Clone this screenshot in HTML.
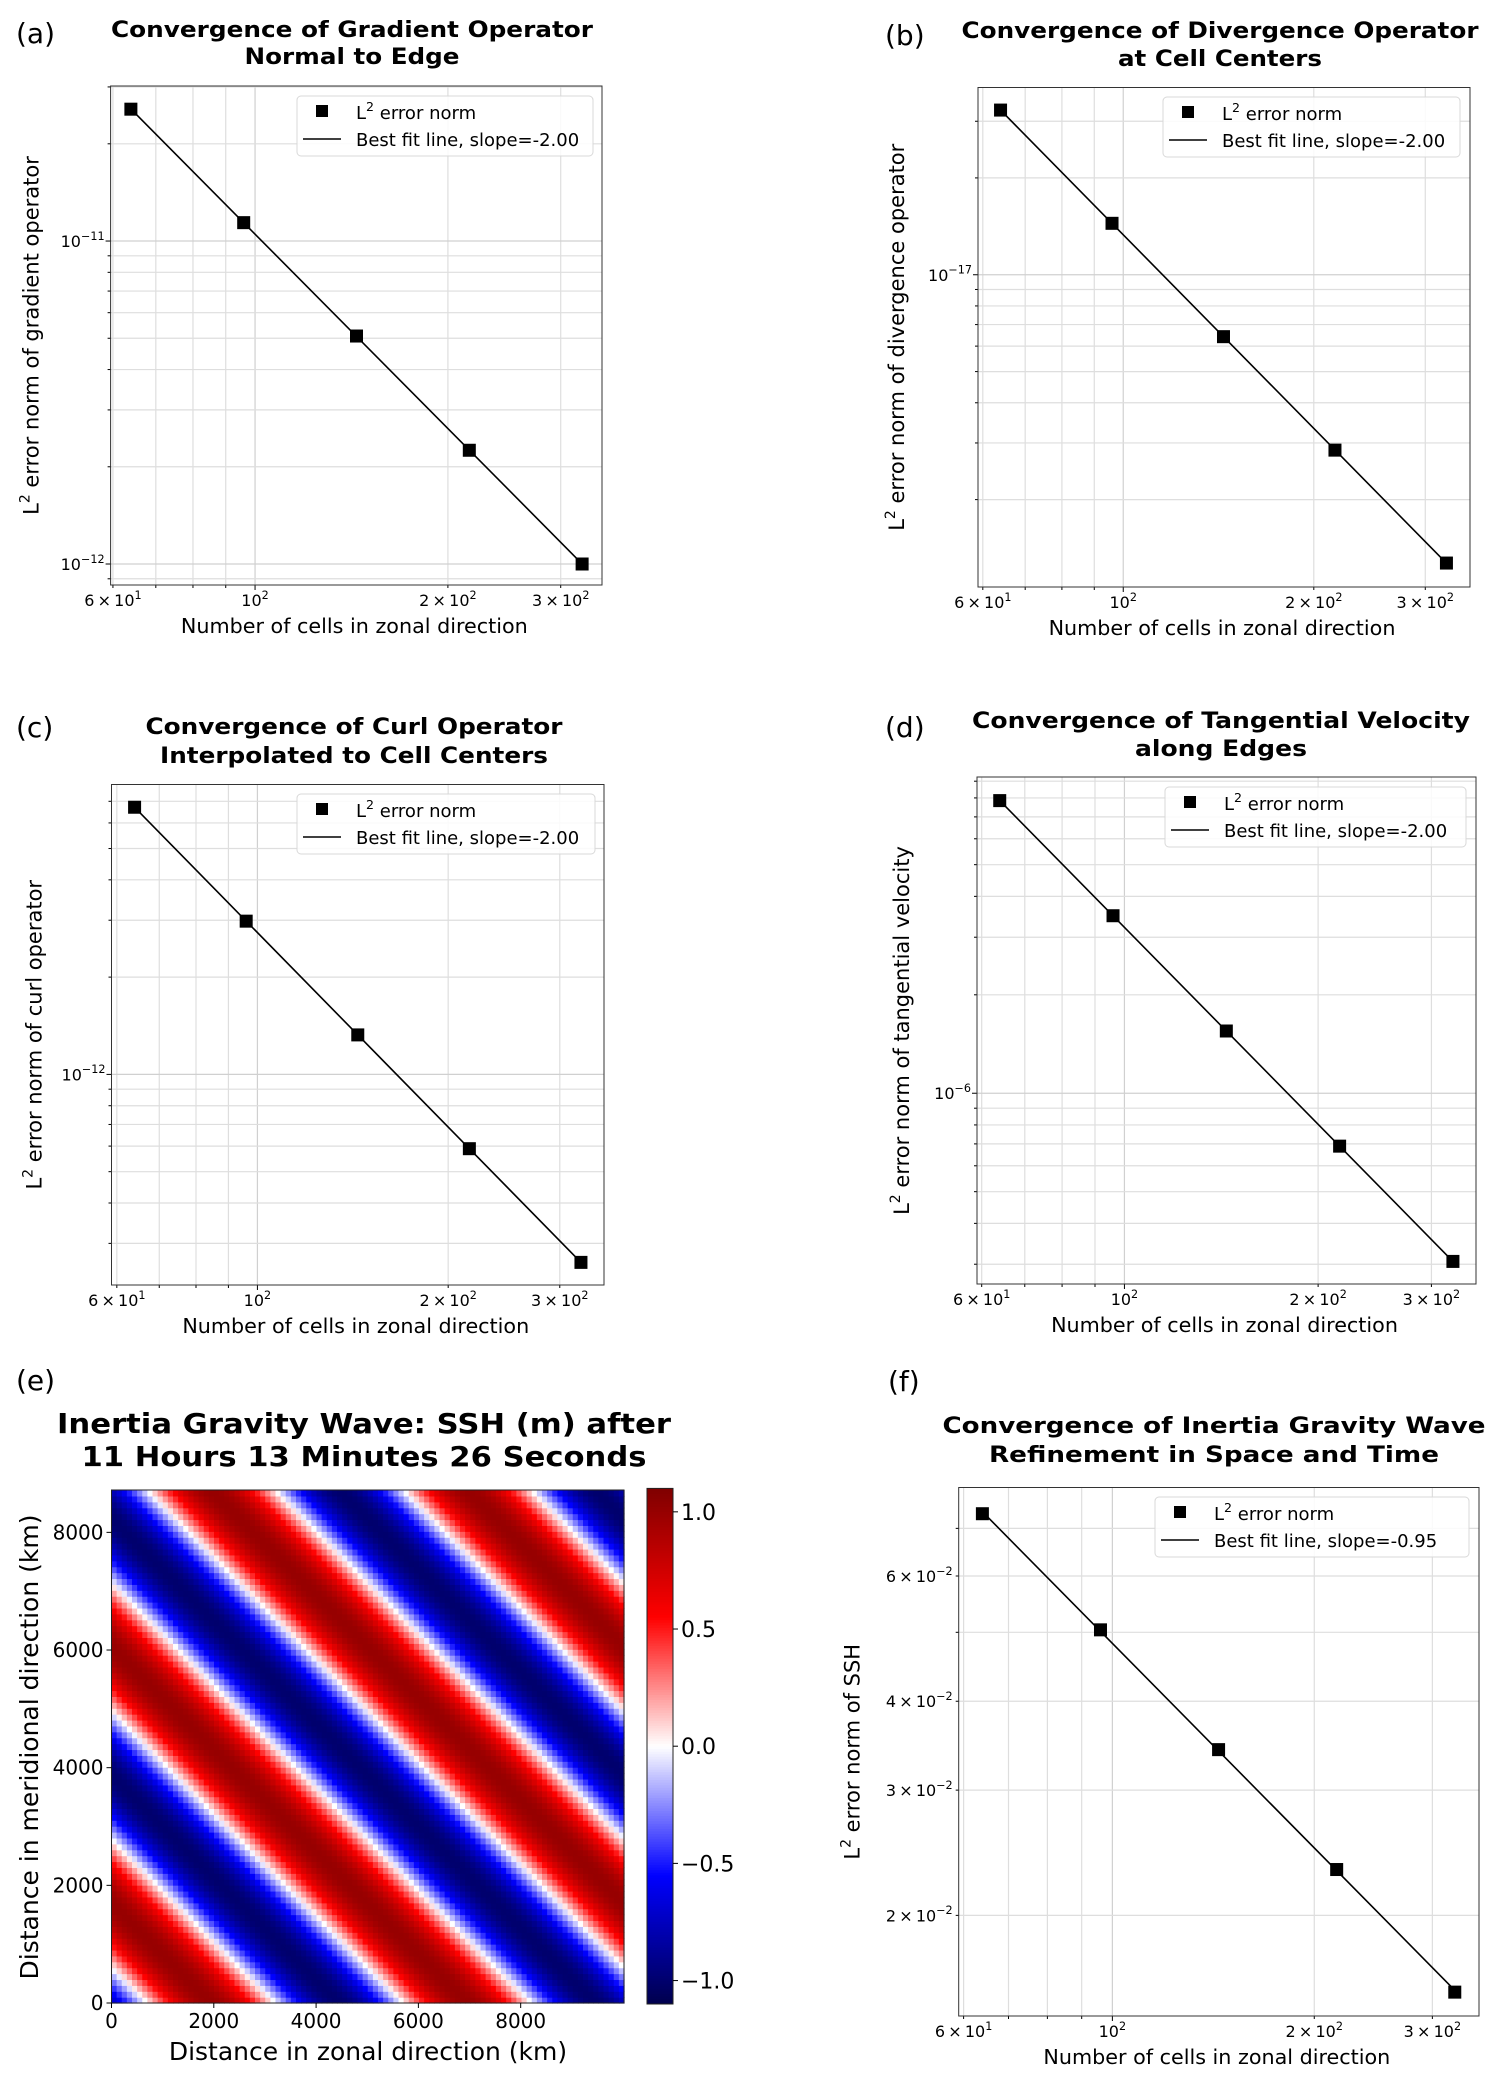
<!DOCTYPE html>
<html><head><meta charset="utf-8">
<style>
html,body{margin:0;padding:0;background:#fff;}
svg{display:block;font-family:"DejaVu Sans","Liberation Sans",sans-serif;}
</style></head>
<body>
<svg id="fig" width="1500" height="2079" viewBox="0 0 1500 2079" xmlns="http://www.w3.org/2000/svg"></svg>
<script>
// ---- data ----
const nCells = [64, 96, 144, 216, 324];
const errGrad = [2.56e-11, 1.14e-11, 5.08e-12, 2.25e-12, 1.0e-12];
const errDiv = [3.25e-17, 1.445e-17, 6.42e-18, 2.85e-18, 1.27e-18];
const errCurl = [6.71e-12, 2.98e-12, 1.325e-12, 5.89e-13, 2.62e-13];
const errTang = [7.85e-6, 3.49e-6, 1.55e-6, 6.89e-7, 3.06e-7];
const errSSH = [7.34e-2, 5.04e-2, 3.42e-2, 2.32e-2, 1.56e-2];
const xTickValues = [60, 100, 200, 300];
const xTickMant = ['6', '', '2', '3'];
const xTickExp = ['1', '2', '2', '2'];
const sshTickValues = [0.02, 0.03, 0.04, 0.06];
const sshTickMant = ['2', '3', '4', '6'];
// heatmap field parameters (SSH wave)
const waveCyclesX = [2];
const waveCyclesY = [2];
const wavePhase = [0.14];
const waveAmp = [1.0];
const domainX = [0, 10020];
const domainY = [0, 8720];
const heatTicks = [0, 2000, 4000, 6000, 8000];
const cbarTicks = [1.0, 0.5, 0.0, -0.5, -1.0];
const cbarTickLabels = ['1.0', '0.5', '0.0', '\u22120.5', '\u22121.0'];

const NS = 'http://www.w3.org/2000/svg';
const svg = document.getElementById('fig');
function mk(tag, attrs, parent) {
  const e = document.createElementNS(NS, tag);
  for (const k in attrs) e.setAttribute(k, attrs[k]);
  (parent || svg).appendChild(e);
  return e;
}
function supText(parent, x, y, base, sup, size, anchor, name) {
  const t = mk('text', {x: x, y: y, 'font-size': size, 'text-anchor': anchor || 'middle', fill: '#000'}, parent);
  
  
  const a = mk('tspan', {}, t); a.textContent = base;
  const b = mk('tspan', {dy: -size * 0.45, 'font-size': size * 0.7}, t); b.textContent = sup;
  return t;
}
function plainText(parent, x, y, str, size, opts, name) {
  const t = mk('text', Object.assign({x: x, y: y, 'font-size': size, 'text-anchor': 'middle', fill: '#000'}, opts || {}), parent);
  t.textContent = str;
  
  
  return t;
}

function logPanel(cfg, errs, slopeLabel) {
  const g = mk('g', {});
  
  
  const lx0 = Math.log10(cfg.xmin), lx1 = Math.log10(cfg.xmax);
  const ly0 = Math.log10(cfg.ymin), ly1 = Math.log10(cfg.ymax);
  const X = v => cfg.L + (Math.log10(v) - lx0) / (lx1 - lx0) * (cfg.R - cfg.L);
  const Y = v => cfg.B - (Math.log10(v) - ly0) / (ly1 - ly0) * (cfg.B - cfg.T);
  for (let d = 1; d <= 2; d++) for (let m = 1; m <= 9; m++) {
    const v = m * Math.pow(10, d);
    if (v < cfg.xmin || v > cfg.xmax) continue;
    const l = mk('line', {x1: X(v), x2: X(v), y1: cfg.T, y2: cfg.B, stroke: m === 1 ? '#d0d0d0' : '#dedede', 'stroke-width': 1.2}, g);
    
    
    mk('line', {x1: X(v), x2: X(v), y1: cfg.B, y2: cfg.B + (m === 1 ? 5 : 3), stroke: '#000', 'stroke-width': 1}, g);
  }
  for (let d = Math.floor(ly0); d <= Math.ceil(ly1); d++) for (let m = 1; m <= 9; m++) {
    const v = m * Math.pow(10, d);
    if (v < cfg.ymin || v > cfg.ymax) continue;
    const l = mk('line', {x1: cfg.L, x2: cfg.R, y1: Y(v), y2: Y(v), stroke: m === 1 ? '#d0d0d0' : '#dedede', 'stroke-width': 1.2}, g);
    
    
    mk('line', {x1: cfg.L - (m === 1 ? 5 : 3), x2: cfg.L, y1: Y(v), y2: Y(v), stroke: '#000', 'stroke-width': 1}, g);
    if (m === 1 && !cfg.ssh) supText(g, cfg.L - 6, Y(v) + 6, '10', '\u2212' + (-d), 16, 'end', 'y-tick-label');
  }
  if (cfg.ssh) {
    sshTickValues.forEach((v, i) => {
      supText(g, cfg.L - 6, Y(v) + 6, sshTickMant[i] + '\u2009\u00d7\u200910', '\u22122', 16, 'end', 'y-tick-label');
    });
  }
  xTickValues.forEach((v, i) => {
    const base = xTickMant[i] ? xTickMant[i] + '\u2009\u00d7\u200910' : '10';
    supText(g, X(v), cfg.B + 21, base, xTickExp[i], 16, 'middle', 'x-tick-label');
  });
  const fr = mk('rect', {x: cfg.L, y: cfg.T, width: cfg.R - cfg.L, height: cfg.B - cfg.T, fill: 'none', stroke: '#333', 'stroke-width': 1}, g);
  
  
  const lx = nCells.map(Math.log10), ly = errs.map(Math.log10);
  const n = lx.length, mx = lx.reduce((a, b) => a + b) / n, my = ly.reduce((a, b) => a + b) / n;
  let sxy = 0, sxx = 0;
  for (let i = 0; i < n; i++) { sxy += (lx[i] - mx) * (ly[i] - my); sxx += (lx[i] - mx) ** 2; }
  const slope = sxy / sxx, icp = my - slope * mx;
  const fit = mk('line', {x1: X(nCells[0]), y1: Y(Math.pow(10, icp + slope * lx[0])), x2: X(nCells[n - 1]), y2: Y(Math.pow(10, icp + slope * lx[n - 1])), stroke: '#000', 'stroke-width': 1.6}, g);
  
  
  nCells.forEach((c, i) => {
    const r = mk('rect', {x: X(c) - 6.5, y: Y(errs[i]) - 6.5, width: 13, height: 13, fill: '#000'}, g);
    
    
  });
  const lg = mk('g', {}, g);
  
  
  mk('rect', {x: cfg.lg[0], y: cfg.lg[1], width: cfg.lg[2], height: 60, rx: 4, fill: 'rgba(255,255,255,0.85)', stroke: '#d8d8d8'}, lg);
  mk('rect', {x: cfg.lg[0] + 19, y: cfg.lg[1] + 9, width: 12, height: 12, fill: '#000'}, lg);
  supText(lg, cfg.lg[0] + 59, cfg.lg[1] + 23, 'L', '2', 18, 'start', 'legend-entry-error');
  const ls = lg.lastChild; const tt = mk('tspan', {dy: 18 * 0.45}, ls); tt.textContent = ' error norm';
  mk('line', {x1: cfg.lg[0] + 6, x2: cfg.lg[0] + 44, y1: cfg.lg[1] + 43, y2: cfg.lg[1] + 43, stroke: '#000', 'stroke-width': 1.6}, lg);
  plainText(lg, cfg.lg[0] + 59, cfg.lg[1] + 50, 'Best fit line, slope=' + slopeLabel, 18, {'text-anchor': 'start'}, 'legend-entry-fit');
  plainText(g, (cfg.L + cfg.R) / 2 - 2, cfg.B + 48, 'Number of cells in zonal direction', 20.7, {}, 'x-axis-title');
  const yc = (cfg.T + cfg.B) / 2, yx = cfg.L - cfg.ylOff;
  const yl = mk('text', {x: yx, y: yc, 'font-size': 21, 'text-anchor': 'middle', transform: 'rotate(-90 ' + yx + ' ' + yc + ')'}, g);
  
  
  const y1 = mk('tspan', {}, yl); y1.textContent = 'L';
  const y2 = mk('tspan', {dy: -9, 'font-size': 14}, yl); y2.textContent = '2';
  const y3 = mk('tspan', {dy: 9}, yl); y3.textContent = ' error norm of ' + cfg.ylab;
  cfg.title.forEach((s, i) => plainText(g, cfg.tc, cfg.ty[i], s, 22, {'font-weight': 'bold', textLength: cfg.tw[i], lengthAdjust: 'spacingAndGlyphs'}, 'chart-title-line'));
  plainText(g, cfg.lab[0], cfg.lab[1], '(' + cfg.id + ')', 28, {'text-anchor': 'start'}, 'panel-label');
}

logPanel({id: 'a', L: 110.6, R: 602, T: 86, B: 585, xmin: 59.5, xmax: 348, ymin: 0.861e-12, ymax: 3.02e-11,
  lg: [297, 96, 296], ylab: 'gradient operator', ylOff: 72, title: ['Convergence of Gradient Operator', 'Normal to Edge'],
  tc: 352, ty: [37, 64], tw: [482, 215], lab: [16, 43]}, errGrad, '-2.00');
logPanel({id: 'b', L: 978, R: 1470, T: 87.5, B: 587, xmin: 58.96, xmax: 353, ymin: 1.07e-18, ymax: 3.82e-17,
  lg: [1163, 97, 297], ylab: 'divergence operator', ylOff: 74, title: ['Convergence of Divergence Operator', 'at Cell Centers'],
  tc: 1220, ty: [38, 66], tw: [517, 204], lab: [885, 45]}, errDiv, '-2.00');
logPanel({id: 'c', L: 111.5, R: 604, T: 784.5, B: 1285, xmin: 58.85, xmax: 352.3, ymin: 2.23e-13, ymax: 7.89e-12,
  lg: [297, 794, 298], ylab: 'curl operator', ylOff: 70, title: ['Convergence of Curl Operator', 'Interpolated to Cell Centers'],
  tc: 354, ty: [734, 763], tw: [417, 388], lab: [16, 737]}, errCurl, '-2.00');
logPanel({id: 'd', L: 977, R: 1476, T: 777, B: 1284, xmin: 59.0, xmax: 351.9, ymin: 2.61e-7, ymax: 9.27e-6,
  lg: [1165, 787, 301], ylab: 'tangential velocity', ylOff: 68, title: ['Convergence of Tangential Velocity', 'along Edges'],
  tc: 1221, ty: [728, 756], tw: [498, 172], lab: [885, 737]}, errTang, '-2.00');
logPanel({id: 'f', L: 958.7, R: 1479, T: 1487.5, B: 2016, xmin: 59.0, xmax: 352.1, ymin: 1.444e-2, ymax: 7.99e-2, ssh: true,
  lg: [1155, 1497, 314], ylab: 'SSH', ylOff: 99, title: ['Convergence of Inertia Gravity Wave', 'Refinement in Space and Time'],
  tc: 1214, ty: [1433, 1462], tw: [543, 450], lab: [888, 1391]}, errSSH, '-0.95');

function seismic(v) {
  const t = Math.max(0, Math.min(1, (v + 1.1) / 2.2)) * 4;
  const s = [[0, 0, 0.3], [0, 0, 1], [1, 1, 1], [1, 0, 0], [0.5, 0, 0]];
  const i = Math.min(3, Math.floor(t)), f = t - i;
  const c = s[i].map((a, k) => Math.round(255 * (a + (s[i + 1][k] - a) * f)));
  return 'rgb(' + c.join(',') + ')';
}
(function () {
  const g = mk('g', {});
  
  
  const L = 111.5, R = 624, T = 1490, B = 2003;
  const X = v => L + (v - domainX[0]) / (domainX[1] - domainX[0]) * (R - L);
  const Y = v => B - (v - domainY[0]) / (domainY[1] - domainY[0]) * (B - T);
  const nx = 100, ny = 87;
  const dx = (domainX[1] - domainX[0]) / nx, dy = (domainY[1] - domainY[0]) / ny;
  const hm = mk('g', {}, g);
  
  
  for (let j = 0; j < ny; j++) for (let i = 0; i < nx; i++) {
    const cx = domainX[0] + (i + 0.5) * dx, cy = domainY[0] + (j + 0.5) * dy;
    const p = waveCyclesX[0] * cx / domainX[1] + waveCyclesY[0] * cy / domainY[1] - wavePhase[0];
    const val = waveAmp[0] * Math.sin(2 * Math.PI * p);
    const r = mk('rect', {x: X(cx - dx / 2), y: Y(cy + dy / 2), width: (R - L) / nx + 0.6, height: (B - T) / ny + 0.6, fill: seismic(val)}, hm);
    
    
  }
  mk('rect', {x: L, y: T, width: R - L, height: B - T, fill: 'none', stroke: '#222', 'stroke-width': 1}, g);
  heatTicks.forEach(v => {
    mk('line', {x1: X(v), x2: X(v), y1: B, y2: B + 5, stroke: '#000'}, g);
    plainText(g, X(v), B + 25, String(v), 20, {}, 'x-tick-label');
    mk('line', {x1: L - 5, x2: L, y1: Y(v), y2: Y(v), stroke: '#000'}, g);
    plainText(g, L - 8, Y(v) + 7, String(v), 20, {'text-anchor': 'end'}, 'y-tick-label');
  });
  plainText(g, 368, 2060, 'Distance in zonal direction (km)', 25, {}, 'x-axis-title');
  plainText(g, 29, 1747, 'Distance in meridional direction (km)', 25, {transform: 'rotate(-90 29 1747)', dy: 9}, 'y-axis-title');
  plainText(g, 364, 1433, 'Inertia Gravity Wave: SSH (m) after', 28, {'font-weight': 'bold', textLength: 614, lengthAdjust: 'spacingAndGlyphs'}, 'chart-title-line');
  plainText(g, 364, 1466, '11 Hours 13 Minutes 26 Seconds', 28, {'font-weight': 'bold', textLength: 565, lengthAdjust: 'spacingAndGlyphs'}, 'chart-title-line');
  plainText(g, 16, 1390, '(e)', 28, {'text-anchor': 'start'}, 'panel-label');
  const cL = 647, cR = 673, cT = 1488.4, cB = 2004;
  const CY = v => cB - (v + 1.1) / 2.2 * (cB - cT);
  const cb = mk('g', {}, g);
  
  
  const steps = 200;
  for (let k = 0; k < steps; k++) {
    const v = -1.1 + (k + 0.5) * 2.2 / steps;
    mk('rect', {x: cL, y: CY(v) - (cB - cT) / steps / 2 - 0.3, width: cR - cL, height: (cB - cT) / steps + 0.6, fill: seismic(v)}, cb);
  }
  mk('rect', {x: cL, y: cT, width: cR - cL, height: cB - cT, fill: 'none', stroke: '#222'}, cb);
  cbarTicks.forEach((v, i) => {
    mk('line', {x1: cR, x2: cR + 5, y1: CY(v), y2: CY(v), stroke: '#000'}, cb);
    plainText(cb, cR + 8, CY(v) + 8, cbarTickLabels[i], 22, {'text-anchor': 'start'}, 'colorbar-tick-label');
  });
})();
</script>
</body></html>
